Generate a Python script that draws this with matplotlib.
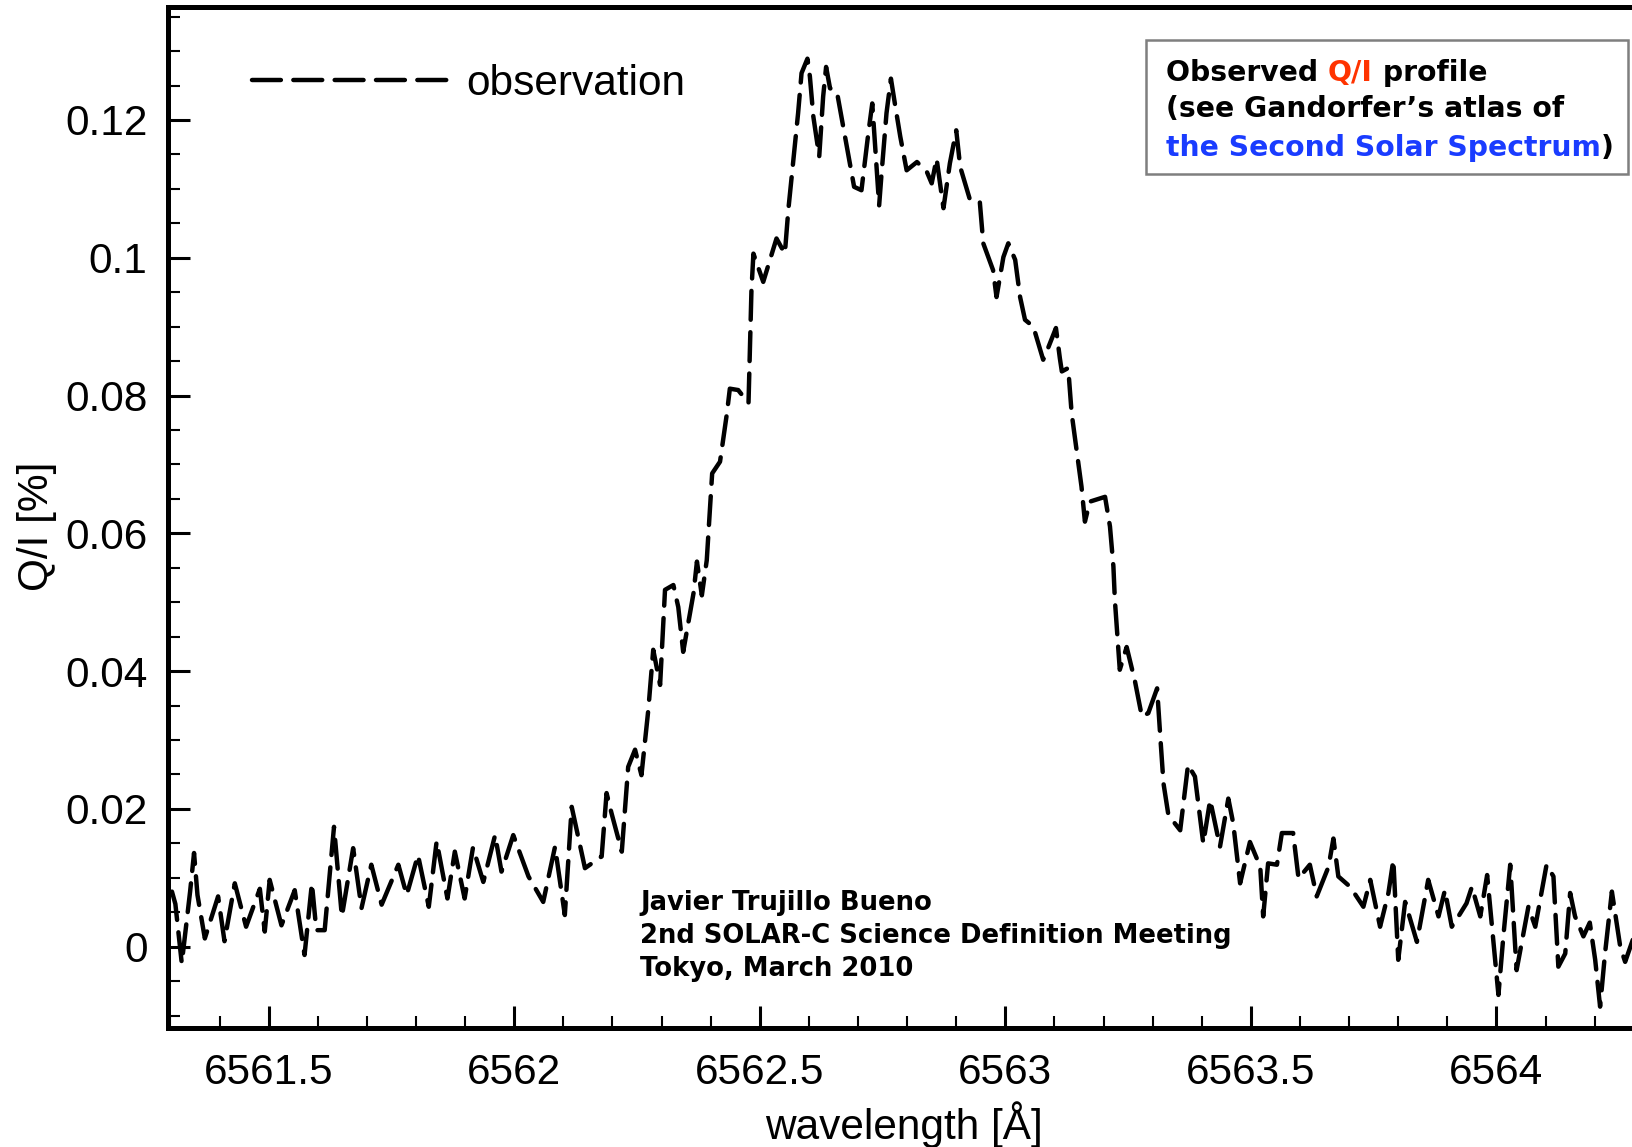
import matplotlib
matplotlib.use('Agg')
import matplotlib.pyplot as plt
from matplotlib.ticker import MultipleLocator, FuncFormatter
from matplotlib.patches import Rectangle

# Q/I profile across H-alpha (values in %)
wavelength = [
    6561.303, 6561.310, 6561.323, 6561.340, 6561.348, 6561.355, 6561.370, 6561.397,
    6561.410, 6561.431, 6561.454, 6561.482, 6561.492, 6561.502, 6561.526, 6561.553,
    6561.573, 6561.588, 6561.597, 6561.614, 6561.633, 6561.649, 6561.672, 6561.689,
    6561.709, 6561.730, 6561.764, 6561.781, 6561.804, 6561.826, 6561.842, 6561.864,
    6561.879, 6561.899, 6561.916, 6561.937, 6561.961, 6561.974, 6561.998, 6562.029,
    6562.059, 6562.083, 6562.103, 6562.117, 6562.144, 6562.178, 6562.188, 6562.198,
    6562.219, 6562.232, 6562.246, 6562.259, 6562.273, 6562.283, 6562.297, 6562.307,
    6562.324, 6562.334, 6562.344, 6562.365, 6562.372, 6562.382, 6562.392, 6562.403,
    6562.419, 6562.433, 6562.439, 6562.456, 6562.477, 6562.483, 6562.487, 6562.507,
    6562.534, 6562.551, 6562.558, 6562.578, 6562.585, 6562.597, 6562.602, 6562.609,
    6562.621, 6562.629, 6562.635, 6562.643, 6562.657, 6562.670, 6562.692, 6562.707,
    6562.721, 6562.729, 6562.735, 6562.743, 6562.748, 6562.758, 6562.767, 6562.775,
    6562.786, 6562.799, 6562.820, 6562.840, 6562.850, 6562.860, 6562.874, 6562.887,
    6562.900, 6562.908, 6562.928, 6562.948, 6562.955, 6562.975, 6562.982, 6562.996,
    6563.006, 6563.020, 6563.030, 6563.040, 6563.057, 6563.077, 6563.087, 6563.103,
    6563.111, 6563.115, 6563.128, 6563.135, 6563.145, 6563.155, 6563.162, 6563.172,
    6563.203, 6563.213, 6563.220, 6563.223, 6563.228, 6563.233, 6563.247, 6563.264,
    6563.278, 6563.291, 6563.309, 6563.315, 6563.322, 6563.332, 6563.356, 6563.372,
    6563.386, 6563.403, 6563.417, 6563.437, 6563.454, 6563.464, 6563.478, 6563.498,
    6563.519, 6563.525, 6563.535, 6563.553, 6563.563, 6563.586, 6563.597, 6563.620,
    6563.634, 6563.658, 6563.668, 6563.678, 6563.702, 6563.729, 6563.743, 6563.763,
    6563.780, 6563.790, 6563.800, 6563.814, 6563.838, 6563.861, 6563.882, 6563.895,
    6563.909, 6563.926, 6563.939, 6563.950, 6563.967, 6563.981, 6564.004, 6564.014,
    6564.028, 6564.041, 6564.065, 6564.079, 6564.102, 6564.116, 6564.126, 6564.140,
    6564.150, 6564.160, 6564.177, 6564.190, 6564.201, 6564.211, 6564.221, 6564.235,
    6564.252, 6564.262, 6564.280,
]
qi = [
    0.0080, 0.0062, -0.0024, 0.0080, 0.0136, 0.0075, 0.0012, 0.0073,
    0.0008, 0.0092, 0.0029, 0.0084, 0.0022, 0.0097, 0.0031, 0.0082,
    -0.0012, 0.0092, 0.0024, 0.0024, 0.0174, 0.0044, 0.0143, 0.0056,
    0.0119, 0.0061, 0.0119, 0.0075, 0.0133, 0.0058, 0.0153, 0.0070,
    0.0138, 0.0070, 0.0144, 0.0094, 0.0162, 0.0109, 0.0162, 0.0102,
    0.0065, 0.0145, 0.0046, 0.0203, 0.0114, 0.0131, 0.0223, 0.0194,
    0.0138, 0.0261, 0.0286, 0.0249, 0.0344, 0.0431, 0.0380, 0.0518,
    0.0525, 0.0493, 0.0428, 0.0513, 0.0559, 0.0510, 0.0561, 0.0687,
    0.0704, 0.0774, 0.0810, 0.0808, 0.0789, 0.0953, 0.1006, 0.0965,
    0.1028, 0.1006, 0.1069, 0.1210, 0.1268, 0.1289, 0.1263, 0.1205,
    0.1147, 0.1234, 0.1277, 0.1246, 0.1241, 0.1190, 0.1103, 0.1098,
    0.1181, 0.1224, 0.1161, 0.1076, 0.1123, 0.1210, 0.1260, 0.1224,
    0.1176, 0.1127, 0.1139, 0.1125, 0.1108, 0.1144, 0.1072, 0.1137,
    0.1185, 0.1132, 0.1084, 0.1081, 0.1021, 0.0982, 0.0943, 0.1001,
    0.1021, 0.0997, 0.0943, 0.0910, 0.0900, 0.0852, 0.0869, 0.0898,
    0.0854, 0.0835, 0.0840, 0.0774, 0.0721, 0.0668, 0.0617, 0.0646,
    0.0653, 0.0610, 0.0552, 0.0503, 0.0452, 0.0402, 0.0435, 0.0385,
    0.0334, 0.0339, 0.0375, 0.0310, 0.0237, 0.0191, 0.0169, 0.0264,
    0.0247, 0.0150, 0.0213, 0.0145, 0.0215, 0.0179, 0.0092, 0.0152,
    0.0116, 0.0044, 0.0121, 0.0119, 0.0165, 0.0165, 0.0099, 0.0119,
    0.0073, 0.0116, 0.0157, 0.0102, 0.0087, 0.0058, 0.0097, 0.0029,
    0.0078, 0.0126, -0.0019, 0.0065, 0.0007, 0.0097, 0.0044, 0.0082,
    0.0029, 0.0048, 0.0063, 0.0087, 0.0044, 0.0104, -0.0070, 0.0015,
    0.0119, -0.0034, 0.0058, 0.0029, 0.0119, 0.0102, -0.0029, -0.0010,
    0.0078, 0.0044, 0.0015, 0.0035, -0.0019, -0.0087, -0.0010, 0.0080,
    0.0000, -0.0022, 0.0015,
]

W, H = 1633, 1147
plt.rcParams['font.family'] = 'Liberation Sans'
fig = plt.figure(figsize=(W / 100, H / 100), dpi=100)


def fx(x):
    return x / W


def fy(y):
    return 1 - y / H


ax = fig.add_axes([fx(168.5), fy(1028), fx(W - 168.5), (1028 - 7) / H])
ax.plot(wavelength, qi, color='black', lw=3.2, dashes=(6.5, 2.8),
        dash_capstyle='round', solid_joinstyle='round', label='observation')

ax.set_xlim(6561.296, 6564.278)
ax.set_ylim(-0.0118, 0.1364)
ax.xaxis.set_major_locator(MultipleLocator(0.5))
ax.xaxis.set_minor_locator(MultipleLocator(0.1))
ax.yaxis.set_major_locator(MultipleLocator(0.02))
ax.yaxis.set_minor_locator(MultipleLocator(0.005))
fmt = FuncFormatter(lambda v, pos: '%g' % round(v, 4))
ax.xaxis.set_major_formatter(fmt)
ax.yaxis.set_major_formatter(fmt)

ax.tick_params(which='both', direction='in', top=False, right=False)
ax.tick_params(which='major', length=15.8, width=2.2, labelsize=30.5)
ax.tick_params(which='minor', length=8.3, width=1.5)
ax.tick_params(axis='y', which='major', pad=15)
ax.tick_params(axis='x', which='major', pad=18)
for side in ['left', 'bottom', 'top']:
    ax.spines[side].set_linewidth(3.6)
ax.spines['right'].set_visible(False)

ax.set_xlabel(u'wavelength [Å]', fontsize=30.5)
ax.xaxis.set_label_coords(0.5022, -0.095)
ax.xaxis.label.set_va('center')
ax.set_ylabel('Q/I [%]', fontsize=30.5)
ax.yaxis.set_label_coords(-0.0901, 0.4917)
ax.yaxis.label.set_va('center')

ax.legend(loc='upper left', bbox_to_anchor=(0.057, 0.944), frameon=False,
          fontsize=30.5, handlelength=4.6, handletextpad=0.45,
          borderpad=0, borderaxespad=0)

# credit lines
fig.text(fx(640), fy(936), 'Javier Trujillo Bueno\n2nd SOLAR-C Science Definition Meeting\nTokyo, March 2010',
         family='DejaVu Sans', fontweight='bold', fontsize=18.6, linespacing=1.35,
         ha='left', va='center')

# boxed note with coloured words
fig.add_artist(Rectangle((fx(1146), fy(174)), (1628 - 1146) / W, (174 - 40) / H,
                         transform=fig.transFigure, facecolor='white',
                         edgecolor='#7f7f7f', lw=1.8))
renderer = fig.canvas.get_renderer()
note_kw = dict(family='DejaVu Sans', fontweight='bold', fontsize=20.3,
               ha='left', va='center')


def width_of(s):
    t = fig.text(0, 0, s + 'x', **note_kw)
    w = t.get_window_extent(renderer).width
    t.remove()
    t = fig.text(0, 0, 'x', **note_kw)
    w -= t.get_window_extent(renderer).width
    t.remove()
    return w


note_lines = [
    (73, [('Observed ', 'black'), ('Q/I', '#ff3300'), (' profile', 'black')]),
    (109, [(u'(see Gandorfer\u2019s atlas of', 'black')]),
    (148, [('the Second Solar Spectrum', '#1a3cff'), (')', 'black')]),
]
for y, parts in note_lines:
    x = 1166
    for s, c in parts:
        fig.text(fx(x), fy(y), s, color=c, **note_kw)
        x += width_of(s)

fig.savefig('out.png', dpi=100)
